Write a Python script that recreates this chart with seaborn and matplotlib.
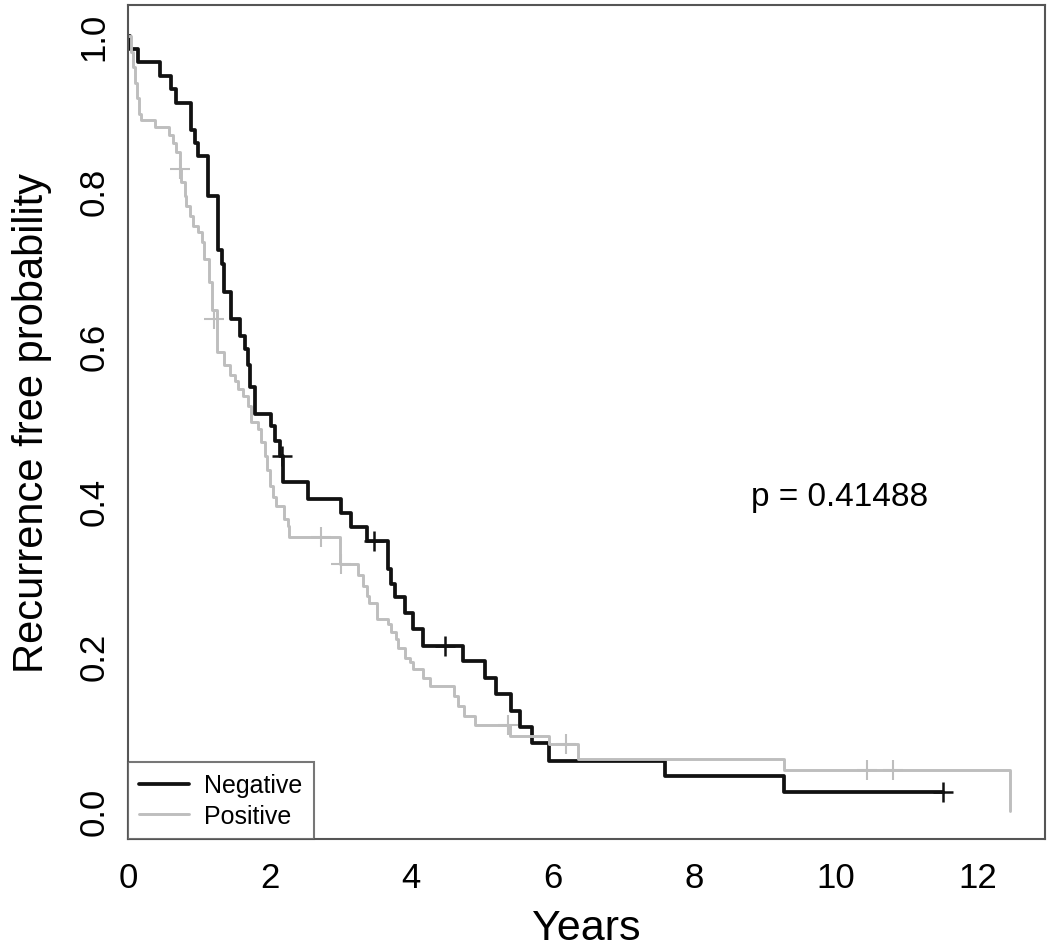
import numpy as np
import pandas as pd
import seaborn as sns
import matplotlib.pyplot as plt

# Kaplan-Meier step points (time in years, survival)
neg_time = [0, 0.03, 0.14, 0.45, 0.61, 0.68, 0.89, 0.94, 0.99, 1.13, 1.27, 1.33,
            1.36, 1.46, 1.58, 1.65, 1.69, 1.72, 1.79, 2.02, 2.07, 2.14, 2.19, 2.54,
            3.01, 3.15, 3.37, 3.67, 3.72, 3.77, 3.91, 4.02, 4.17, 4.73, 5.04, 5.20,
            5.41, 5.53, 5.70, 5.95, 7.58, 9.27, 11.51]
neg_surv = [1.0, 0.983, 0.966, 0.949, 0.932, 0.914, 0.879, 0.862, 0.845, 0.793, 0.724, 0.706,
            0.670, 0.635, 0.613, 0.596, 0.575, 0.547, 0.512, 0.497, 0.478, 0.458, 0.424, 0.403,
            0.385, 0.367, 0.349, 0.312, 0.293, 0.276, 0.256, 0.235, 0.213, 0.194, 0.172, 0.151,
            0.129, 0.108, 0.088, 0.065, 0.045, 0.024, 0.024]

pos_time = [0, 0.04, 0.07, 0.10, 0.13, 0.15, 0.19, 0.38, 0.58, 0.63, 0.68, 0.73,
            0.75, 0.80, 0.82, 0.87, 0.92, 0.99, 1.04, 1.08, 1.15, 1.18, 1.25, 1.36,
            1.44, 1.51, 1.55, 1.62, 1.69, 1.74, 1.83, 1.88, 1.93, 1.96, 2.00, 2.05,
            2.09, 2.21, 2.26, 2.28, 2.99, 3.25, 3.32, 3.37, 3.41, 3.51, 3.67, 3.72,
            3.79, 3.81, 3.91, 3.98, 4.02, 4.16, 4.26, 4.61, 4.66, 4.75, 4.90, 5.39,
            5.95, 6.35, 9.27, 12.45]
pos_surv = [1.0, 0.98, 0.96, 0.94, 0.92, 0.90, 0.891, 0.882, 0.872, 0.862, 0.850, 0.828,
            0.811, 0.794, 0.781, 0.768, 0.755, 0.747, 0.734, 0.712, 0.682, 0.646, 0.592, 0.575,
            0.562, 0.555, 0.545, 0.536, 0.523, 0.502, 0.493, 0.476, 0.458, 0.44, 0.42, 0.405,
            0.394, 0.377, 0.368, 0.353, 0.319, 0.304, 0.291, 0.278, 0.269, 0.248, 0.241, 0.231,
            0.222, 0.211, 0.198, 0.192, 0.183, 0.172, 0.162, 0.148, 0.135, 0.123, 0.111, 0.097,
            0.086, 0.067, 0.053, 0.0]

# censoring marks
neg_cens_t = [2.17, 3.48, 4.47, 11.51]
neg_cens_s = [0.458, 0.349, 0.213, 0.024]
pos_cens_t = [0.73, 1.22, 2.73, 3.01, 5.37, 6.19, 10.43, 10.80]
pos_cens_s = [0.828, 0.635, 0.353, 0.319, 0.111, 0.086, 0.053, 0.053]

p_label = "p = 0.41488"

sns.set_style("white")
plt.rcParams['font.family'] = ['Liberation Sans', 'DejaVu Sans']
plt.rcParams['text.color'] = 'black'
plt.rcParams['axes.labelcolor'] = 'black'

neg_color = '#111111'
pos_color = '#bebebe'
frame_color = '#555555'

fig = plt.figure(figsize=(10.5, 9.53), dpi=100)
ax = fig.add_axes([128 / 1050, 1 - 840 / 953, (1045 - 128) / 1050, (840 - 6) / 953])

df_neg = pd.DataFrame({'t': neg_time, 's': neg_surv})
df_pos = pd.DataFrame({'t': pos_time, 's': pos_surv})

sns.lineplot(data=df_neg, x='t', y='s', drawstyle='steps-post', estimator=None,
             sort=False, color=neg_color, linewidth=2.7, label='Negative', ax=ax)
sns.lineplot(data=df_pos, x='t', y='s', drawstyle='steps-post', estimator=None,
             sort=False, color=pos_color, linewidth=2.1, label='Positive', ax=ax)

sns.scatterplot(x=neg_cens_t, y=neg_cens_s, marker='+', s=200, color=neg_color,
                linewidth=1.8, ax=ax, legend=False, zorder=3)
sns.scatterplot(x=pos_cens_t, y=pos_cens_s, marker='+', s=200, color=pos_color,
                linewidth=1.5, ax=ax, legend=False, zorder=3)

ax.set_xlim(0, 12.95)
ax.set_ylim(-0.036, 1.04)
ax.set_xticks(np.arange(0, 13, 2))
ax.set_yticks(np.arange(0, 1.01, 0.2))
ax.set_yticklabels([f"{v:.1f}" for v in np.arange(0, 1.01, 0.2)],
                   rotation=90, va='center')

for sp in ax.spines.values():
    sp.set_visible(True)
    sp.set_color(frame_color)
    sp.set_linewidth(1.5)

ax.tick_params(axis='both', direction='out', length=11, width=1.4,
               color=frame_color, labelsize=25, labelcolor='black')
ax.tick_params(axis='x', pad=5)
ax.tick_params(axis='y', pad=1.5)

ax.set_xlabel("Years", fontsize=31)
ax.set_ylabel("Recurrence free probability", fontsize=30)
ax.xaxis.set_label_coords(0.5, -0.083)
ax.yaxis.set_label_coords(-0.083, 0.5)

ax.text(10.05, 0.406, p_label, fontsize=24, ha='center', va='center')

leg = ax.legend(loc='lower left', fontsize=18, frameon=True, fancybox=False,
                borderaxespad=0, borderpad=0.45, handlelength=2.0,
                handletextpad=0.6, labelspacing=0.25)
leg.get_frame().set_edgecolor(frame_color)
leg.get_frame().set_linewidth(1.5)
for txt in leg.get_texts():
    txt.set_color('black')

plt.savefig('out.png', dpi=100)
plt.close()
